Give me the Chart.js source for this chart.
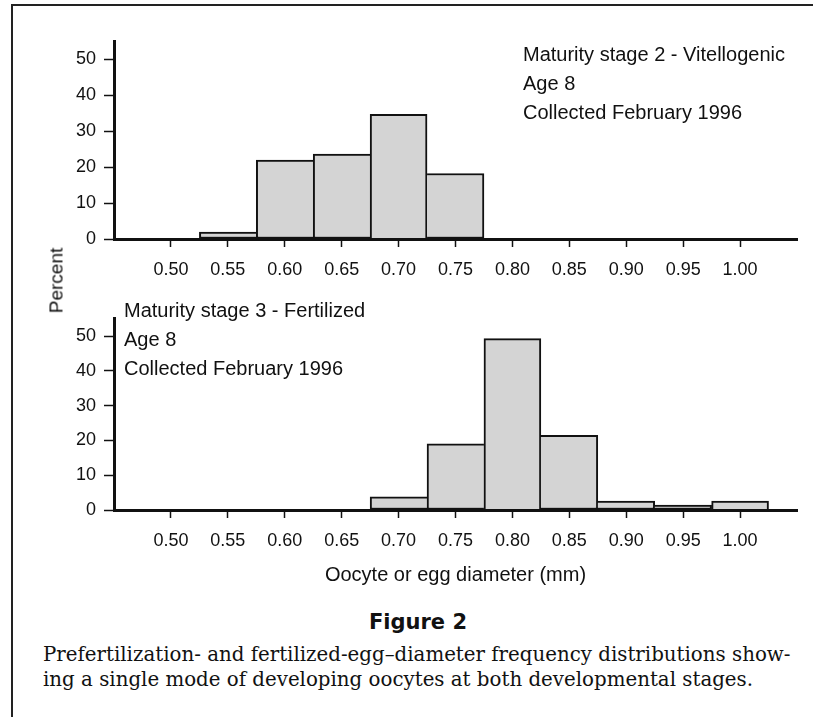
<!DOCTYPE html>
<html>
<head>
<meta charset="utf-8">
<script src="https://cdn.jsdelivr.net/npm/chart.js@4"></script>
<style>
  html, body { margin: 0; padding: 0; background: #fff; }
  body { width: 813px; height: 717px; position: relative; overflow: hidden; }
  #frameTop { position: absolute; left: 11px; top: 4px; width: 802px; height: 2px; background: #222; }
  #frameLeft { position: absolute; left: 11px; top: 4px; width: 2px; height: 713px; background: #222; }
  canvas.cv { position: absolute; left: 0; width: 813px; height: 300px; }
  #c1 { top: 0; }
  #c2 { top: 300px; }
  #ylab { position: absolute; left: 5.4px; top: 270.5px; width: 100px; height: 19px; line-height: 19px;
          text-align: center; font: 19px "Liberation Sans", Arial, sans-serif; color: #111;
          transform: rotate(-90deg); white-space: nowrap; }
  #figTitle { position: absolute; left: 318px; width: 200px; text-align: center; white-space: nowrap;
              font: bold 21px "DejaVu Sans", sans-serif; line-height: 21px; color: #111; }
  .cap { position: absolute; left: 43px; white-space: nowrap; font-family: "DejaVu Serif", serif; color: #111; }
</style>
</head>
<body>
<div id="frameTop"></div>
<div id="frameLeft"></div>
<canvas id="c1" class="cv" width="813" height="300"></canvas>
<canvas id="c2" class="cv" width="813" height="300"></canvas>
<div id="ylab"></div>
<div id="figTitle"></div>
<div id="cap1" class="cap"></div>
<div id="cap2" class="cap"></div>
<script>
// ---- data ----
const binCenters = [0.50, 0.55, 0.60, 0.65, 0.70, 0.75, 0.80, 0.85, 0.90, 0.95, 1.00];
const xTickLabels = ['0.50', '0.55', '0.60', '0.65', '0.70', '0.75', '0.80', '0.85', '0.90', '0.95', '1.00'];
const yTickValues = [0, 10, 20, 30, 40, 50];
const stage2Percent = [0, 1.9, 21.9, 23.6, 34.6, 18.2, 0, 0, 0, 0, 0];
const stage3Percent = [0, 0, 0, 0, 3.8, 19.0, 49.3, 21.5, 2.6, 1.4, 2.6];
const stage2Notes = ['Maturity stage 2 - Vitellogenic', 'Age 8', 'Collected February 1996'];
const stage3Notes = ['Maturity stage 3 - Fertilized', 'Age 8', 'Collected February 1996'];
const xAxisTitle = 'Oocyte or egg diameter (mm)';
const yAxisTitle = 'Percent';
const figureTitle = 'Figure 2';
const captionLines = [
  'Prefertilization- and fertilized-egg\u2013diameter frequency distributions show-',
  'ing a single mode of developing oocytes at both developmental stages.'
];

const SANS = '"Liberation Sans", Arial, Helvetica, sans-serif';
const INK = '#111';

function notesPlugin(lines, x, y0, step) {
  return {
    id: 'notes',
    afterDraw(chart) {
      const ctx = chart.ctx;
      ctx.save();
      ctx.font = '20px ' + SANS;
      ctx.fillStyle = INK;
      ctx.textAlign = 'left';
      ctx.textBaseline = 'alphabetic';
      lines.forEach((t, i) => ctx.fillText(t, x, y0 + i * step));
      ctx.restore();
    }
  };
}

// the taller of two neighbouring bars draws their shared edge, so it is drawn once
function skipEdge(values) {
  return c => {
    const i = c.dataIndex;
    const v = values[i];
    const p = i > 0 ? values[i - 1] : 0;
    const n = i < values.length - 1 ? values[i + 1] : 0;
    if (p > 0 && p >= v) return 'left';
    if (n > v) return 'right';
    return 'bottom';
  };
}

function makeChart(id, values, notes, noteX, noteY, padTop, xHeight, showTitle) {
  return new Chart(document.getElementById(id), {
    type: 'bar',
    data: {
      datasets: [{
        data: binCenters.map((x, i) => ({ x: x, y: values[i] })),
        backgroundColor: '#d4d4d4',
        borderColor: INK,
        borderWidth: 2,
        borderSkipped: skipEdge(values),
        barPercentage: 1.0,
        categoryPercentage: 1.0
      }]
    },
    options: {
      responsive: false,
      animation: false,
      devicePixelRatio: 1,
      layout: { padding: { left: 0, right: 16, top: padTop, bottom: 0 } },
      plugins: { legend: { display: false }, tooltip: { enabled: false } },
      scales: {
        x: {
          type: 'linear',
          min: 0.45,
          max: 1.05,
          offset: false,
          afterBuildTicks: s => { s.ticks = binCenters.map(v => ({ value: v })); },
          afterFit: s => { s.height = xHeight; },
          grid: { display: true, drawOnChartArea: false, drawTicks: true, tickLength: 8,
                  tickColor: INK, tickWidth: 1.5, offset: false },
          border: { display: true, color: INK, width: 3, z: 1 },
          ticks: { autoSkip: false, maxRotation: 0, minRotation: 0, padding: 12, color: INK,
                   font: { family: SANS, size: 18 },
                   callback: (v, i) => xTickLabels[i] },
          title: { display: showTitle, text: xAxisTitle, color: INK,
                   font: { family: SANS, size: 20 }, padding: { top: 0, bottom: 13 } }
        },
        y: {
          min: 0,
          max: 55,
          afterBuildTicks: s => { s.ticks = yTickValues.map(v => ({ value: v })); },
          afterFit: s => { s.width = 114; },
          grid: { display: true, drawOnChartArea: false, drawTicks: true, tickLength: 10,
                  tickColor: INK, tickWidth: 1.5 },
          border: { display: true, color: INK, width: 3, z: 1 },
          ticks: { padding: 8, color: INK, font: { family: SANS, size: 18 } }
        }
      }
    },
    plugins: [notesPlugin(notes, noteX, noteY, 29)]
  });
}

makeChart('c1', stage2Percent, stage2Notes, 523, 61, 41, 61, false);
makeChart('c2', stage3Percent, stage3Notes, 124, 17, 12, 90, true);

// ---- texts outside the plots ----
document.getElementById('ylab').textContent = yAxisTitle;
const ft = document.getElementById('figTitle');
ft.textContent = figureTitle;
ft.style.top = (630 - 0.846 * 21) + 'px';

// fit caption font size to the measured line width of the reference
const mctx = document.createElement('canvas').getContext('2d');
mctx.font = '16px "DejaVu Serif"';
const w16 = mctx.measureText(captionLines[0]).width;
const capSize = 16 * 748 / w16;
const baselines = [662, 687];
['cap1', 'cap2'].forEach((id, i) => {
  const el = document.getElementById(id);
  el.textContent = captionLines[i];
  el.style.fontSize = capSize + 'px';
  el.style.lineHeight = capSize + 'px';
  el.style.top = (baselines[i] - 0.846 * capSize) + 'px';
});
</script>
</body>
</html>
